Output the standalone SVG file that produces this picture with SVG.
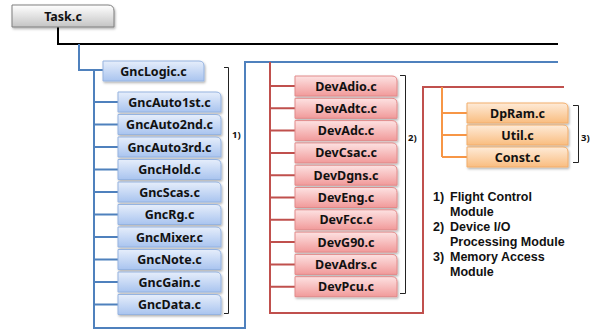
<svg xmlns="http://www.w3.org/2000/svg" width="592" height="331" viewBox="0 0 592 331">
<defs>
<linearGradient id="gGray" x1="0" y1="0" x2="0" y2="1"><stop offset="0" stop-color="#ffffff"/><stop offset="1" stop-color="#c4c4c4"/></linearGradient>
<linearGradient id="gBlue" x1="0" y1="0" x2="0" y2="1"><stop offset="0" stop-color="#e6eefb"/><stop offset="1" stop-color="#a9c4ef"/></linearGradient>
<linearGradient id="gRed" x1="0" y1="0" x2="0" y2="1"><stop offset="0" stop-color="#fde2e2"/><stop offset="1" stop-color="#f19a9a"/></linearGradient>
<linearGradient id="gOrange" x1="0" y1="0" x2="0" y2="1"><stop offset="0" stop-color="#feebd8"/><stop offset="1" stop-color="#f9bd80"/></linearGradient>
<filter id="sh" x="-10%" y="-20%" width="130%" height="160%"><feDropShadow dx="1" dy="1.5" stdDeviation="1" flood-color="#000" flood-opacity="0.3"/></filter>
</defs>
<style>
.b{filter:url(#sh);stroke-width:1}
.gray{fill:url(#gGray);stroke:#7f7f7f}
.blue{fill:url(#gBlue);stroke:#95b3e0}
.red{fill:url(#gRed);stroke:#e28a8a}
.orange{fill:url(#gOrange);stroke:#f2ad6a}
.t{font-family:"Noto Sans","DejaVu Sans",sans-serif;font-weight:bold;font-size:12.5px;fill:#111;text-anchor:middle}
.l{font-family:"Liberation Sans",Arial,sans-serif;font-weight:bold;font-size:12.5px;fill:#111}
.s{font-family:"Noto Sans","DejaVu Sans",sans-serif;font-weight:bold;font-size:9.5px;fill:#111}
.ln{fill:none;stroke-width:2}
.k{stroke:#000}
.bl{stroke:#4f81bd}
.rd{stroke:#c0504d}
.or{stroke:#f79646}
.br{fill:none;stroke:#222;stroke-width:1}
</style>
<g id="connectors">
<path class="ln k" d="M58,27 V44 H558"/>
<path class="ln bl" d="M79,44 V70 H103 M94,70 V328 H245 V62 H558 M94,102 H118 M94,124.5 H118 M94,147 H118 M94,169.5 H118 M94,192 H118 M94,214.5 H118 M94,237 H118 M94,259.5 H118 M94,282 H118 M94,304.5 H118"/>
<path class="ln rd" d="M270,62 V313 H423 V87 H564 M270,86 H295 M270,108.3 H295 M270,130.6 H295 M270,152.9 H295 M270,175.2 H295 M270,197.5 H295 M270,219.8 H295 M270,242.1 H295 M270,264.4 H295 M270,286.7 H295"/>
<path class="ln or" d="M442,87 V157 M442,113 H467 M442,135 H467 M442,157 H467"/>
</g>
<g id="task"><path class="b gray" d="M12,5 H108 Q114,5 114,11 V27 H12 Z"/><text class="t" x="63" y="21">Task.c</text></g>
<g id="gnclogic"><path class="b blue" d="M103,61 H199 Q204,61 204,66 V81 H103 Z"/><text class="t" x="153.5" y="75.5">GncLogic.c</text></g>
<g id="gncauto1st"><path class="b blue" d="M118,92 H216 Q221,92 221,97 V112 H118 Z"/><text class="t" x="169.5" y="106.5">GncAuto1st.c</text></g>
<g id="gncauto2nd"><path class="b blue" d="M118,114.5 H216 Q221,114.5 221,119.5 V134.5 H118 Z"/><text class="t" x="169.5" y="129">GncAuto2nd.c</text></g>
<g id="gncauto3rd"><path class="b blue" d="M118,137 H216 Q221,137 221,142 V157 H118 Z"/><text class="t" x="169.5" y="151.5">GncAuto3rd.c</text></g>
<g id="gnchold"><path class="b blue" d="M118,159.5 H216 Q221,159.5 221,164.5 V179.5 H118 Z"/><text class="t" x="169.5" y="174">GncHold.c</text></g>
<g id="gncscas"><path class="b blue" d="M118,182 H216 Q221,182 221,187 V202 H118 Z"/><text class="t" x="169.5" y="196.5">GncScas.c</text></g>
<g id="gncrg"><path class="b blue" d="M118,204.5 H216 Q221,204.5 221,209.5 V224.5 H118 Z"/><text class="t" x="169.5" y="219">GncRg.c</text></g>
<g id="gncmixer"><path class="b blue" d="M118,227 H216 Q221,227 221,232 V247 H118 Z"/><text class="t" x="169.5" y="241.5">GncMixer.c</text></g>
<g id="gncnote"><path class="b blue" d="M118,249.5 H216 Q221,249.5 221,254.5 V269.5 H118 Z"/><text class="t" x="169.5" y="264">GncNote.c</text></g>
<g id="gncgain"><path class="b blue" d="M118,272 H216 Q221,272 221,277 V292 H118 Z"/><text class="t" x="169.5" y="286.5">GncGain.c</text></g>
<g id="gncdata"><path class="b blue" d="M118,294.5 H216 Q221,294.5 221,299.5 V314.5 H118 Z"/><text class="t" x="169.5" y="309">GncData.c</text></g>
<g id="devadio"><path class="b red" d="M295,76 H392 Q397,76 397,81 V96 H295 Z"/><text class="t" x="346" y="90.5">DevAdio.c</text></g>
<g id="devadtc"><path class="b red" d="M295,98.3 H392 Q397,98.3 397,103.3 V118.3 H295 Z"/><text class="t" x="346" y="112.8">DevAdtc.c</text></g>
<g id="devadc"><path class="b red" d="M295,120.6 H392 Q397,120.6 397,125.6 V140.6 H295 Z"/><text class="t" x="346" y="135.1">DevAdc.c</text></g>
<g id="devcsac"><path class="b red" d="M295,142.9 H392 Q397,142.9 397,147.9 V162.9 H295 Z"/><text class="t" x="346" y="157.4">DevCsac.c</text></g>
<g id="devdgns"><path class="b red" d="M295,165.2 H392 Q397,165.2 397,170.2 V185.2 H295 Z"/><text class="t" x="346" y="179.7">DevDgns.c</text></g>
<g id="deveng"><path class="b red" d="M295,187.5 H392 Q397,187.5 397,192.5 V207.5 H295 Z"/><text class="t" x="346" y="202">DevEng.c</text></g>
<g id="devfcc"><path class="b red" d="M295,209.8 H392 Q397,209.8 397,214.8 V229.8 H295 Z"/><text class="t" x="346" y="224.3">DevFcc.c</text></g>
<g id="devg90"><path class="b red" d="M295,232.1 H392 Q397,232.1 397,237.1 V252.1 H295 Z"/><text class="t" x="346" y="246.6">DevG90.c</text></g>
<g id="devadrs"><path class="b red" d="M295,254.4 H392 Q397,254.4 397,259.4 V274.4 H295 Z"/><text class="t" x="346" y="268.9">DevAdrs.c</text></g>
<g id="devpcu"><path class="b red" d="M295,276.7 H392 Q397,276.7 397,281.7 V296.7 H295 Z"/><text class="t" x="346" y="291.2">DevPcu.c</text></g>
<g id="dpram"><path class="b orange" d="M467,103 H563 Q568,103 568,108 V123 H467 Z"/><text class="t" x="517.5" y="117.5">DpRam.c</text></g>
<g id="util"><path class="b orange" d="M467,125 H563 Q568,125 568,130 V145 H467 Z"/><text class="t" x="517.5" y="139.5">Util.c</text></g>
<g id="const"><path class="b orange" d="M467,147 H563 Q568,147 568,152 V167 H467 Z"/><text class="t" x="517.5" y="161.5">Const.c</text></g>
<g id="brackets">
<path class="br" d="M224,67.5 H228.5 V313.5 H224"/>
<text class="s" x="232" y="138">1)</text>
<path class="br" d="M400,75.5 H405.5 V293.5 H400"/>
<text class="s" x="408" y="141">2)</text>
<path class="br" d="M573,105.5 H578.5 V162.5 H573"/>
<text class="s" x="581" y="141">3)</text>
</g>
<g id="legend">
<text class="l" x="433" y="201">1)</text><text class="l" x="450" y="201">Flight Control</text>
<text class="l" x="450" y="216">Module</text>
<text class="l" x="433" y="231">2)</text><text class="l" x="450" y="231">Device I/O</text>
<text class="l" x="450" y="246">Processing Module</text>
<text class="l" x="433" y="261">3)</text><text class="l" x="450" y="261">Memory Access</text>
<text class="l" x="450" y="276">Module</text>
</g>
</svg>
